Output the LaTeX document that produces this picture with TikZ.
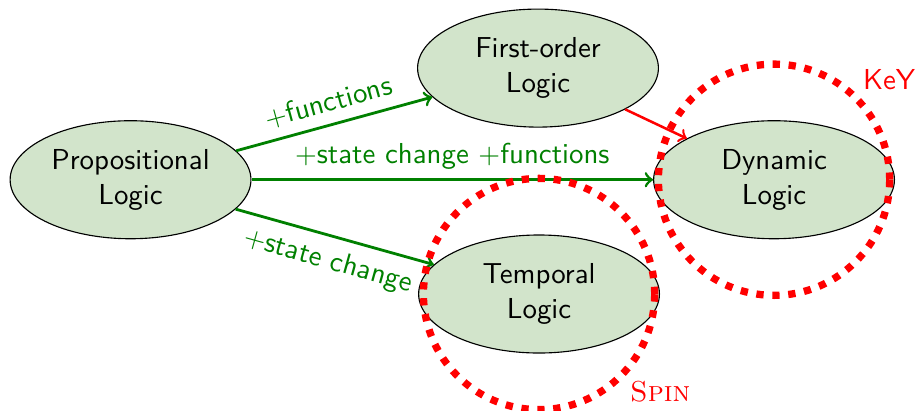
\documentclass[tikz,border=0pt]{standalone}
\usetikzlibrary{shapes.geometric, positioning}

\definecolor{logicfill}{RGB}{210,228,203}
\colorlet{addgreen}{green!50!black}

\begin{document}
\begin{tikzpicture}[font=\sffamily\fontsize{10.3pt}{12.4pt}\selectfont, auto,
    logic/.style={ellipse, draw, fill=logicfill, align=center, inner sep=1.5pt,
                  minimum width=3.02cm, minimum height=1.48cm},
    extend/.style={->, addgreen, line width=1pt},
    tool/.style={red, dash pattern=on 2.6pt off 3.1pt, line width=2.6pt}]

    \useasboundingbox (0,0) rectangle (11.5,5.154);

    \node [logic] (prop) at (1.637, 2.90) {Propositional\\Logic};
    \node [logic] (fol)  at (6.747, 4.30) {First-order\\Logic};
    \node [logic] (dyn)  at (9.707, 2.90) {Dynamic\\Logic};
    \node [logic] (temp) at (6.760, 1.467) {Temporal\\Logic};

 \path
      (prop) edge [extend] node [sloped] {$+$functions} (fol)
      (prop) edge [extend] node {$+$state change $+$functions} (dyn)
      (prop) edge [extend] node [sloped, swap, inner sep=4pt] {$+$state change} (temp)
      (fol)  edge [->, red, line width=0.9pt] (dyn);

    % tools covering the logics
    \draw [tool] (dyn) circle (1.45cm);
    \draw [tool] (temp) circle (1.45cm);
    \node [red, anchor=center] (key)  at (11.15, 4.15) {KeY};
    \node [red, anchor=center, font=\rmfamily\fontsize{10.3pt}{12.4pt}\selectfont] (spin) at (8.28, 0.24) {\textsc{Spin}};
                        \end{tikzpicture}
\end{document}
